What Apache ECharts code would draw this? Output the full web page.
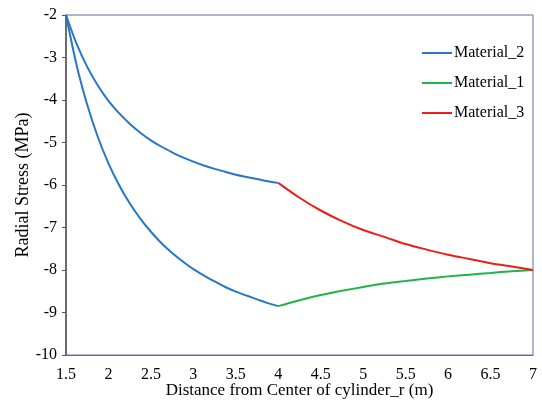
<!DOCTYPE html>
<html>
<head>
<meta charset="utf-8">
<script src="https://cdn.jsdelivr.net/npm/echarts@6/dist/echarts.min.js"></script>
<style>
  html, body { margin: 0; padding: 0; background: #fff; }
  #main { width: 542px; height: 401px; }
</style>
</head>
<body>
<div id="main"></div>
<script>
// values
var rInner = [1.5, 1.625, 1.75, 1.875, 2.0, 2.125, 2.25, 2.375, 2.5, 2.625, 2.75, 2.875, 3.0, 3.125, 3.25, 3.375, 3.5, 3.625, 3.75, 3.875, 4.0];
var material2Upper = [-2.00, -2.68, -3.22, -3.66, -4.02, -4.31, -4.56, -4.77, -4.95, -5.10, -5.23, -5.35, -5.45, -5.54, -5.62, -5.69, -5.76, -5.81, -5.86, -5.91, -5.95];
var material2Lower = [-2.00, -3.18, -4.11, -4.87, -5.49, -6.00, -6.43, -6.79, -7.10, -7.37, -7.60, -7.80, -7.98, -8.13, -8.27, -8.40, -8.51, -8.60, -8.69, -8.78, -8.85];

var rOuter = [4.0, 4.25, 4.5, 4.75, 5.0, 5.25, 5.5, 5.75, 6.0, 6.25, 6.5, 6.75, 7.0];
var material3 = [-5.95, -6.30, -6.60, -6.85, -7.06, -7.22, -7.39, -7.52, -7.64, -7.74, -7.84, -7.92, -8.00];
var material1 = [-8.85, -8.71, -8.59, -8.49, -8.40, -8.32, -8.26, -8.20, -8.15, -8.11, -8.07, -8.03, -8.00];

var legendNames = ['Material_2', 'Material_1', 'Material_3'];

function pairs(xs, ys) {
    return xs.map(function (x, i) { return [x, ys[i]]; });
}

var font = 'Liberation Serif';
var frameColor = '#5b6f9c';

var myChart = echarts.init(document.getElementById('main'));

var option = {
    animation: false,
    grid: {
        left: 66, right: 9, top: 15, bottom: 46,
        outerBoundsMode: 'none',
        show: true, borderColor: frameColor, borderWidth: 1
    },
    legend: {
        data: legendNames,
        orient: 'vertical',
        left: 417,
        top: 40,
        icon: 'path://M0,0L30,0L30,2L0,2Z',
        itemWidth: 30,
        itemHeight: 2,
        itemGap: 14,
        textStyle: { fontFamily: font, fontSize: 16, color: '#000', padding: [0, 0, 0, -3], lineHeight: 16 }
    },
    xAxis: {
        type: 'value',
        min: 1.5, max: 7, interval: 0.5,
        name: 'Distance from Center of cylinder_r (m)',
        nameLocation: 'middle',
        nameGap: 27,
        nameMoveOverlap: false,
        nameTextStyle: { fontFamily: font, fontSize: 17, color: '#000' },
        axisLine: { lineStyle: { color: frameColor } },
        axisTick: { show: false },
        splitLine: { show: false },
        axisLabel: { fontFamily: font, fontSize: 16, color: '#000', margin: 12 }
    },
    yAxis: {
        type: 'value',
        min: -10, max: -2, interval: 1,
        name: 'Radial Stress (MPa)',
        nameLocation: 'middle',
        nameGap: 34,
        nameMoveOverlap: false,
        nameTextStyle: { fontFamily: font, fontSize: 18, color: '#000' },
        axisLine: { show: true, lineStyle: { color: '#555', width: 1.5 } },
        axisTick: { show: true, length: 4, lineStyle: { color: '#555' } },
        splitLine: { show: false },
        axisLabel: { fontFamily: font, fontSize: 16, color: '#000', margin: 9 }
    },
    series: [
        {
            name: 'Material_2', type: 'line', symbol: 'none', smooth: 0.3,
            lineStyle: { color: '#2677c9', width: 2 }, itemStyle: { color: '#2677c9' },
            data: pairs(rInner, material2Upper)
        },
        {
            name: 'Material_2', type: 'line', symbol: 'none', smooth: 0.3,
            lineStyle: { color: '#2677c9', width: 2 }, itemStyle: { color: '#2677c9' },
            data: pairs(rInner, material2Lower)
        },
        {
            name: 'Material_1', type: 'line', symbol: 'none', smooth: 0.3,
            lineStyle: { color: '#22b24c', width: 2 }, itemStyle: { color: '#22b24c' },
            data: pairs(rOuter, material1)
        },
        {
            name: 'Material_3', type: 'line', symbol: 'none', smooth: 0.3,
            lineStyle: { color: '#f01c1c', width: 2 }, itemStyle: { color: '#f01c1c' },
            data: pairs(rOuter, material3)
        }
    ]
};

myChart.setOption(option);
</script>
</body>
</html>
